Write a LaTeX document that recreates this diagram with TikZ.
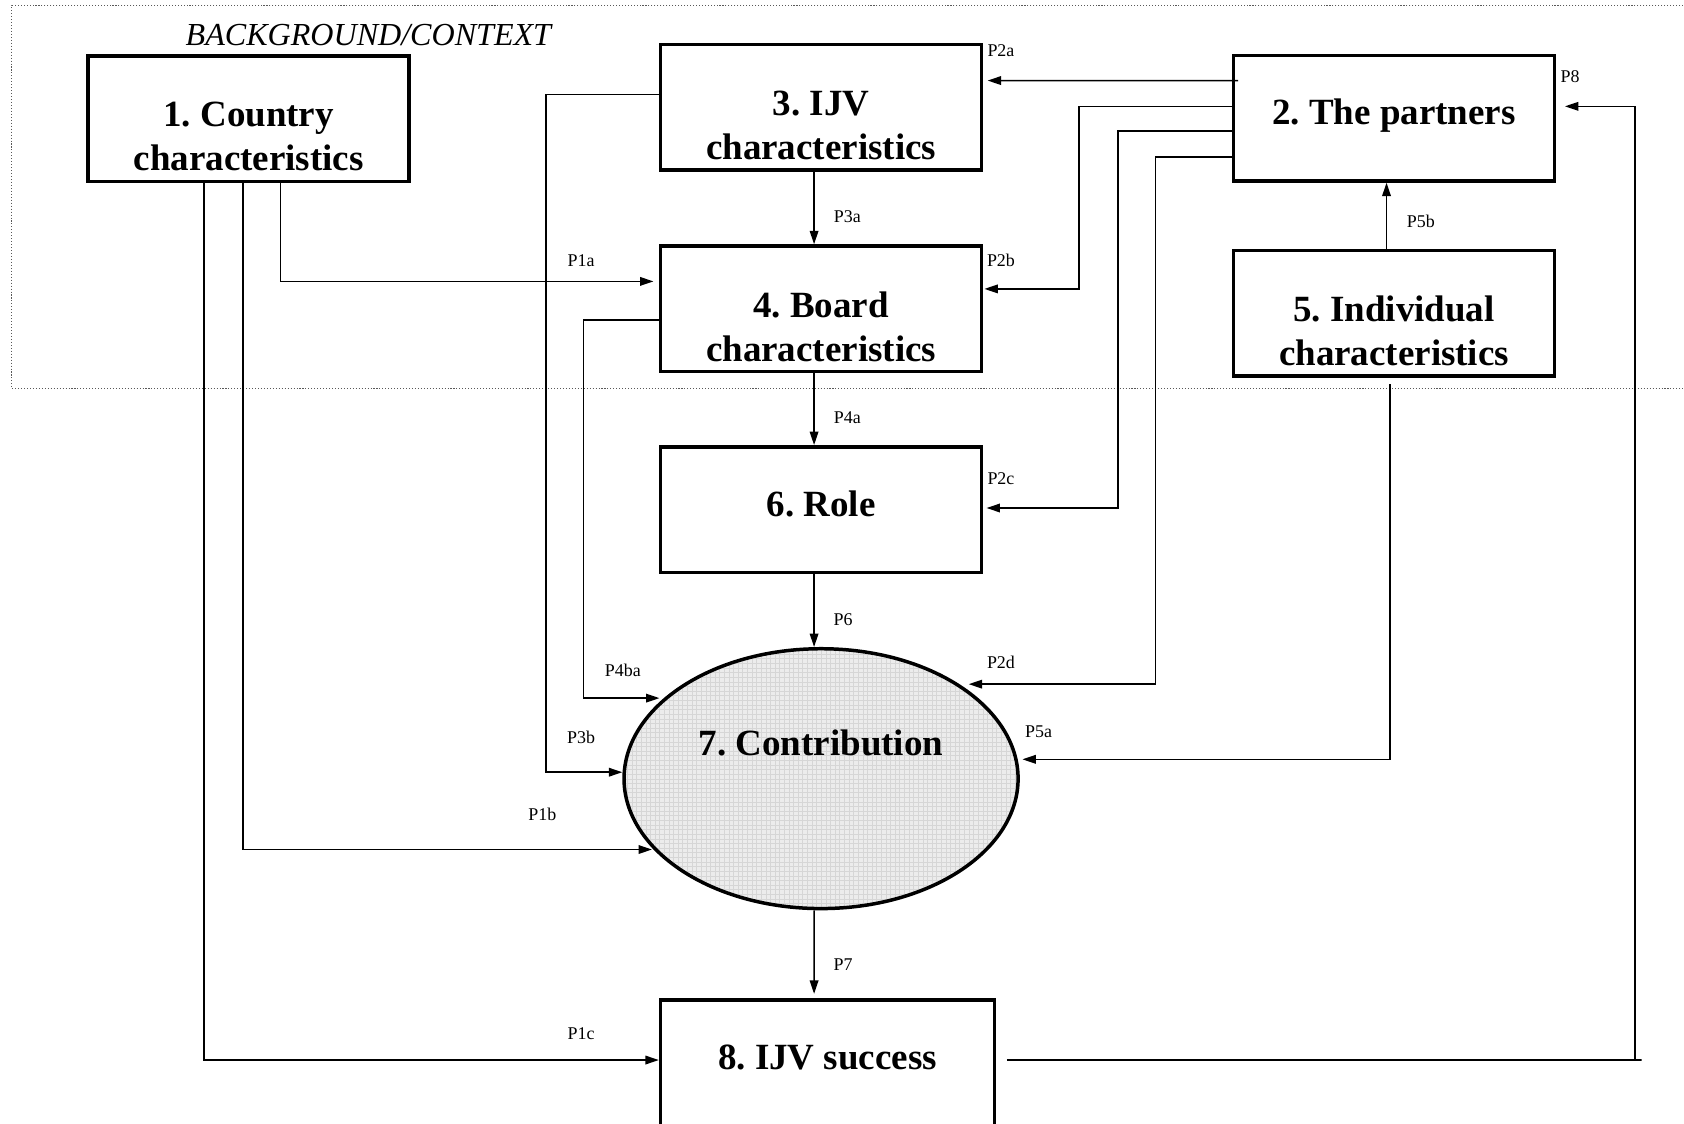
\documentclass[tikz,border=0pt]{standalone}
\usepackage{fontspec}
\setmainfont{Liberation Serif}
\frenchspacing
\usetikzlibrary{arrows.meta,shapes.geometric}
\begin{document}
\begin{tikzpicture}[x=0.02cm,y=-0.02cm,
  box/.style={draw,line width=0.065cm,minimum width=5.98cm,minimum height=2.34cm,inner sep=0pt},
  btxt/.style={font=\bfseries\fontsize{19.6}{23.3}\selectfont,align=center,inner sep=0pt},
  lbl/.style={font=\fontsize{9.5}{11}\selectfont,inner sep=0pt},
  arr/.style={line width=0.03cm,-{Triangle[length=0.25cm,width=0.16cm]}},
  ln/.style={line width=0.03cm}]
\useasboundingbox (0,0) rectangle (1568,1046);
% background/context frame
\draw[densely dotted,line width=0.02cm,gray!70!black] (1600,5) -- (11,5) -- (11,362) -- (1600,362);
\node[font=\itshape\fontsize{17}{20}\selectfont,inner sep=0pt] (bg) at (343,33) {BACKGROUND/CONTEXT};
% boxes
\node[box] (b1) at (231.5,110.5) {};
\node[btxt] (t1) at (231.5,127) {1. Country\\characteristics};
\node[box] (b3) at (764.5,100) {};
\node[btxt] (t3) at (764.5,117) {3. IJV\\characteristics};
\node[box] (b4) at (764.5,287.5) {};
\node[btxt] (t4) at (764.5,304) {4. Board\\characteristics};
\node[box] (b6) at (764.5,474.5) {};
\node[btxt] (t6) at (764.5,469) {6. Role};
\node[box] (b2) at (1298,110) {};
\node[btxt] (t2) at (1298,108) {2. The partners};
\node[box] (b5) at (1298,291.5) {};
\node[btxt] (t5) at (1298,308) {5. Individual\\characteristics};
\node[box,minimum width=6.22cm] (b8) at (770.5,989.5) {};
\node[btxt] (t8) at (770.5,985) {8. IJV success};
\node[ellipse,draw,line width=0.065cm,fill=gray!15,minimum width=7.34cm,minimum height=4.84cm,inner sep=0pt,
  path picture={\draw[gray!32,line width=0.12pt] (path picture bounding box.south west) grid[step=0.086cm] (path picture bounding box.north east);}] (e7) at (764.5,725) {};
\node[btxt] (t7) at (764.5,692) {7. Contribution};
% connectors from box 2
\draw[arr] ([xshift=0.12cm,yshift=0.7cm]b2.west) -- ([xshift=0.08cm,yshift=0.5cm]b3.east);
\draw[arr] ([yshift=0.22cm]b2.west) -- ++(-2.84cm,0) |- ([xshift=0.02cm,yshift=0.37cm]b4.east);
\draw[arr] ([yshift=-0.24cm]b2.west) -- ++(-2.12cm,0) |- ([xshift=0.06cm,yshift=0.03cm]b6.east);
\draw[arr] ([yshift=-0.72cm]b2.west) -- ++(-1.42cm,0) |- ([xshift=2.75cm,yshift=1.76cm]e7.center);
% P8 feedback
\draw[arr] ([xshift=0.2cm,yshift=0.05cm]b8.east) -- ++(11.82cm,0) -- ++(-0.12cm,0) |- ([xshift=0.16cm,yshift=0.22cm]b2.east);
% P5a, P5b
\draw[arr] ([xshift=-0.14cm]b5.north) -- ([xshift=-0.14cm]b2.south);
\draw[arr] ([xshift=-0.08cm,yshift=-0.12cm]b5.south) |- ([xshift=3.75cm,yshift=0.36cm]e7.center);
% vertical chain
\draw[arr] ([xshift=-0.13cm]b3.south) -- ([xshift=-0.13cm]b4.north);
\draw[arr] ([xshift=-0.13cm]b4.south) -- ([xshift=-0.13cm]b6.north);
\draw[arr] ([xshift=-0.13cm]b6.south) -- ([xshift=-0.13cm]e7.north);
\draw[arr] ([xshift=-0.13cm]e7.south) -- ([xshift=-0.25cm,yshift=0.08cm]b8.north);
% from box 1
\draw[arr] ([xshift=0.59cm]b1.south) |- ([xshift=-0.1cm,yshift=0.51cm]b4.west);
\draw[arr] ([xshift=-0.11cm]b1.south) |- ([xshift=-3.15cm,yshift=-1.32cm]e7.center);
\draw[arr] ([xshift=-0.83cm]b1.south) |- ([yshift=0.05cm]b8.west);
% from box 3 and 4 to contribution
\draw[arr] ([yshift=0.24cm]b3.west) -- ++(-2.1cm,0) |- ([yshift=0.12cm]e7.west);
\draw[arr] ([yshift=-0.21cm]b4.west) -- ++(-1.4cm,0) |- ([xshift=-3.01cm,yshift=1.5cm]e7.center);
% labels
\node[lbl] (l2a) at (932,47) {P2a};
\node[lbl] (l2b) at (932,242) {P2b};
\node[lbl] (l2c) at (932,446) {P2c};
\node[lbl] (l2d) at (932,617) {P2d};
\node[lbl] (l8) at (1462,71) {P8};
\node[lbl] (l5b) at (1323,206) {P5b};
\node[lbl] (l5a) at (967,681) {P5a};
\node[lbl] (l3a) at (789,202) {P3a};
\node[lbl] (l4a) at (789,389) {P4a};
\node[lbl] (l6) at (785,577) {P6};
\node[lbl] (l7) at (785,898) {P7};
\node[lbl] (l1a) at (541,243) {P1a};
\node[lbl] (l1b) at (505,758) {P1b};
\node[lbl] (l1c) at (541,962) {P1c};
\node[lbl] (l3b) at (541,687) {P3b};
\node[lbl] (l4ba) at (580,624) {P4ba};
\end{tikzpicture}
\end{document}
